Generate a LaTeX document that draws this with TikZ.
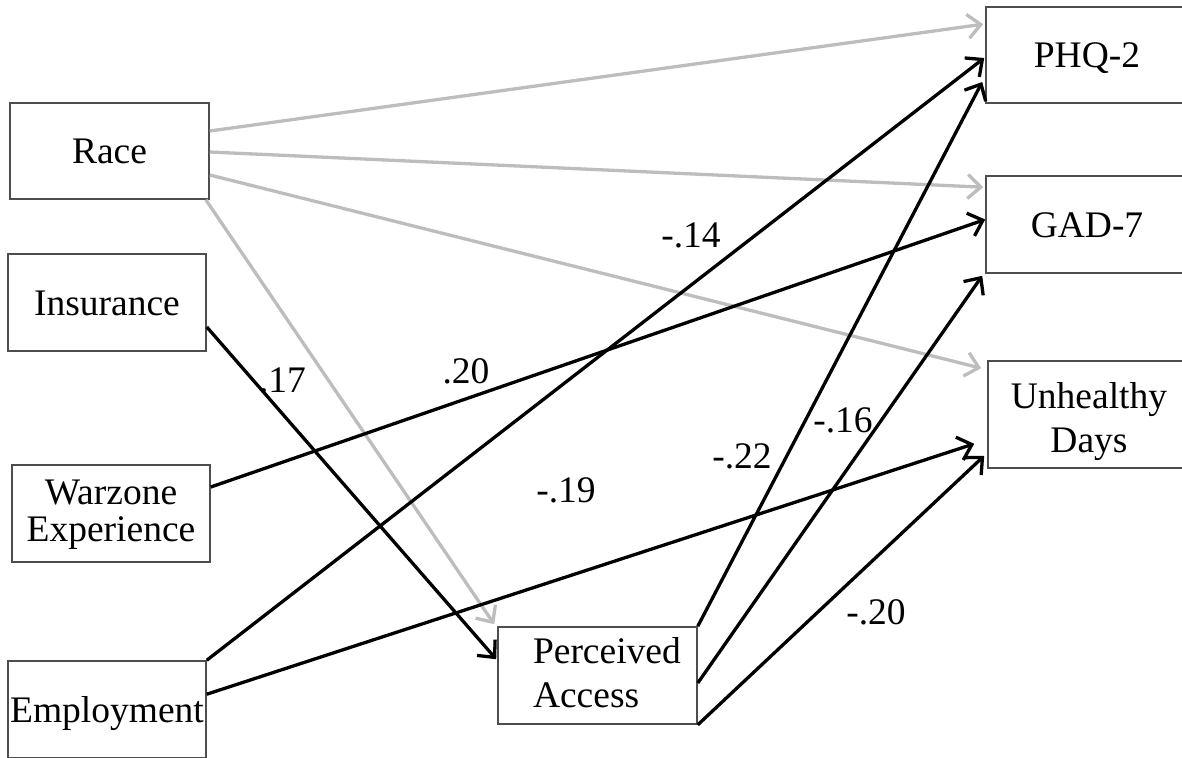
\documentclass[tikz,border=0pt]{standalone}
\usepackage{fontspec}
\setmainfont{Liberation Serif}
\usetikzlibrary{arrows.meta,calc}
\definecolor{pathgray}{HTML}{BDBDBD}
\definecolor{boxline}{HTML}{4D4D4D}
\begin{document}
\begin{tikzpicture}[x=1pt,y=-1pt,
  var/.style={draw=boxline, line width=1.6pt, fill=white,
    minimum width=198pt, minimum height=97pt, inner sep=0pt,
    text height=25pt, text depth=0pt,
    font=\fontsize{37.5}{44}\selectfont},
  outcome/.style={var, minimum width=202pt},
  effect/.style={line width=3.3pt, -{Straight Barb[length=13pt,width=24pt]}},
  sig/.style={effect, draw=black},
  nonsig/.style={effect, draw=pathgray},
  coef/.style={inner sep=0pt, text height=25pt, text depth=0pt,
    font=\fontsize{37.5}{44}\selectfont}]
\useasboundingbox (0,0) rectangle (1182,757);
\clip (0,0) rectangle (1182,757);

% predictors
\node[var, minimum width=199pt, minimum height=96pt] (race) at (109.5,151) {Race};
\node[var] (ins) at (107,302.5) {Insurance};
\node[var, align=center, text height=55pt,
  font=\fontsize{37.5}{37}\selectfont] (war) at (111,513.5) {Warzone\\Experience};
\node[var] (emp) at (107,709.5) {Employment};

% mediator
\node[var, minimum width=199pt, align=left, text width=129pt, text depth=50pt] (pa)
  at (597.5,675.5) {Perceived\\Access};

% outcomes
\node[outcome, minimum height=96pt] (phq) at (1087,55) {PHQ-2};
\node[outcome] (gad) at (1087,224.5) {GAD-7};
\node[outcome, minimum height=107pt, align=center, text height=75pt] (ud)
  at (1089,414.5) {Unhealthy\\Days};

% non-significant paths
\draw[nonsig] ($(race.east)+(0,-20)$) -- ($(phq.north west)+(-2,18)$);
\draw[nonsig] ($(race.east)+(0,1)$) -- ($(gad.north west)+(-2,12)$);
\draw[nonsig] ($(race.east)+(0,24)$) -- ($(ud.north west)+(-6,8)$);
\draw[nonsig] ($(race.south east)+(-4,0)$) -- ($(pa.north west)+(-3,-2)$);

% significant paths
\draw[sig] ($(ins.east)+(0,24.5)$) -- ($(pa.north west)+(-1,33)$);
\draw[sig] ($(war.east)+(0,-26.5)$) -- ($(gad.west)+(0,-5)$);
\draw[sig] (emp.north east) -- ($(phq.west)+(-1,3)$);
\draw[sig] ($(emp.north east)+(0,34)$) -- ($(ud.south west)+(-13,-25)$);
\draw[sig] (pa.north east) -- ($(phq.west)+(-3,27)$);
\draw[sig] ($(pa.east)+(0,7.5)$) -- ($(gad.south west)+(-3,2)$);
\draw[sig] (pa.south east) -- ($(ud.south west)+(-3,-13)$);

% path coefficients
\node[coef] (c17) at (282.5,380) {.17};
\node[coef] (c20a) at (466,371) {.20};
\node[coef] (c14) at (691,235) {-.14};
\node[coef] (c22) at (742,456) {-.22};
\node[coef] (c16) at (843,420) {-.16};
\node[coef] (c19) at (566,490) {-.19};
\node[coef] (c20b) at (876,612) {-.20};
\end{tikzpicture}
\end{document}
